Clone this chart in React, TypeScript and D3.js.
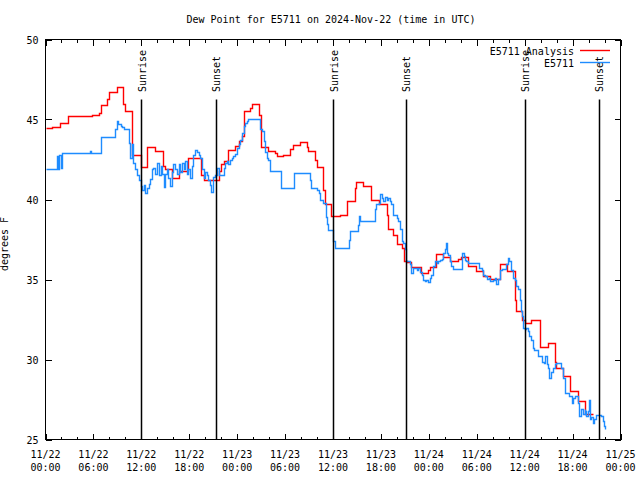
import React from "react";
import * as d3 from "d3";

// hours since 2024-11-22 00:00 UTC
const analysisHours = [0, 0.83, 1.8, 2.8, 5.8, 6.7, 6.9, 7.7, 7.9, 8.9, 9.7, 9.9, 10.8, 11.96, 12.7, 13.75, 14.7, 15.0, 15.8, 16.7, 17.9, 19.5, 19.8, 21.75, 22.0, 22.4, 22.9, 23.75, 24.2, 24.6, 24.8, 25.6, 25.9, 26.75, 26.96, 27.9, 28.75, 28.96, 29.8, 30.6, 31.0, 31.9, 32.7, 32.9, 33.75, 33.96, 34.8, 35.0, 35.8, 36.9, 37.7, 38.75, 38.9, 39.8, 40.7, 41.7, 42.7, 42.9, 43.5, 43.96, 44.7, 44.9, 45.3, 45.8, 47.0, 47.9, 48.1, 48.9, 49.8, 50.7, 51.7, 52.0, 52.9, 53.9, 54.8, 55.6, 56.9, 57.8, 58.75, 58.9, 59.7, 60.0, 60.75, 61.96, 62.9, 63.8, 63.96, 64.8, 65.7, 66.7, 67.5, 67.6, 68.5];
const analysisValues = [44.45, 44.55, 44.75, 45.2, 45.3, 45.4, 45.9, 46.3, 46.7, 47.05, 46.0, 45.56, 42.8, 42.04, 43.29, 43.02, 42.08, 41.88, 41.35, 41.77, 42.6, 41.56, 41.25, 41.77, 42.19, 42.4, 43.08, 43.33, 43.65, 44.0, 45.52, 45.7, 45.98, 45.3, 43.29, 43.06, 42.9, 42.75, 42.8, 43.13, 43.38, 43.6, 43.3, 43.02, 42.5, 42.04, 40.6, 39.75, 38.96, 39.06, 39.9, 40.73, 41.1, 40.83, 39.94, 39.69, 39.0, 38.13, 37.8, 37.25, 36.98, 36.15, 36.08, 35.77, 35.42, 35.6, 35.79, 36.6, 36.42, 36.15, 36.3, 36.42, 35.83, 35.52, 35.21, 35.06, 36.0, 35.56, 33.75, 33.06, 32.5, 32.25, 32.44, 30.79, 31.04, 29.83, 29.48, 29.0, 28.06, 27.4, 27.19, 26.6, 26.6];

const obsHours = [0, 1.45, 1.6, 1.75, 1.9, 2.05, 5.6, 5.7, 7.0, 8.75, 8.9, 9.04, 9.4, 9.6, 9.8, 10.5, 10.6, 10.8, 11.0, 11.25, 11.5, 11.7, 11.9, 12.1, 12.3, 12.4, 12.5, 12.7, 12.9, 13.1, 13.3, 13.5, 13.75, 13.96, 14.2, 14.4, 14.6, 14.8, 15.0, 15.2, 15.4, 15.6, 15.8, 16.0, 16.25, 16.5, 16.7, 16.9, 17.1, 17.3, 17.5, 17.7, 17.9, 18.1, 18.3, 18.5, 18.75, 18.96, 19.2, 19.4, 19.6, 19.8, 20.0, 20.2, 20.4, 20.6, 20.75, 20.96, 21.25, 21.5, 21.7, 22.1, 22.3, 22.5, 22.7, 22.9, 23.1, 23.3, 23.5, 23.75, 23.96, 24.2, 24.4, 24.6, 24.8, 25.0, 25.2, 25.4, 26.9, 27.1, 27.3, 27.5, 27.7, 27.9, 28.1, 29.5, 31.1, 33.1, 33.3, 33.96, 34.2, 34.4, 34.8, 35.1, 35.3, 35.4, 36.04, 36.2, 38.0, 38.1, 39.1, 39.2, 39.4, 41.25, 41.4, 41.7, 41.9, 42.1, 42.3, 42.5, 42.7, 42.9, 43.1, 43.3, 43.5, 43.96, 44.2, 44.4, 44.6, 44.8, 45.0, 45.1, 45.6, 45.8, 46.0, 46.5, 46.7, 46.9, 47.1, 47.3, 47.5, 47.7, 47.9, 48.1, 48.3, 48.5, 48.75, 48.96, 49.2, 49.4, 49.6, 49.8, 50.0, 50.1, 50.3, 50.4, 50.6, 50.8, 51.0, 52.1, 52.2, 52.4, 52.5, 52.7, 52.9, 54.3, 54.6, 54.8, 55.0, 55.3, 55.5, 55.7, 56.0, 56.25, 56.4, 56.7, 56.9, 57.1, 57.6, 57.9, 58.1, 58.3, 58.5, 58.75, 58.96, 59.2, 59.4, 59.6, 59.7, 59.8, 60.0, 60.2, 60.4, 60.6, 60.8, 61.0, 61.2, 61.4, 61.7, 61.9, 62.2, 62.4, 62.6, 62.75, 62.9, 63.1, 63.3, 63.5, 63.75, 63.96, 64.4, 64.6, 64.8, 65.0, 65.2, 65.4, 65.6, 65.96, 66.1, 66.25, 66.5, 66.7, 66.8, 67.0, 67.2, 67.3, 67.5, 67.6, 67.7, 67.9, 68.0, 68.1, 68.2, 68.3, 68.5, 68.7, 68.96, 69.4, 69.6, 69.8, 69.96, 70.1];
const obsValues = [41.92, 42.7, 41.9, 42.8, 42.0, 42.92, 43.05, 42.92, 43.92, 44.4, 44.9, 44.7, 44.6, 44.5, 44.4, 43.54, 42.6, 43.5, 42.3, 41.9, 41.56, 41.2, 40.83, 40.6, 40.9, 40.42, 40.4, 40.7, 41.0, 41.3, 41.9, 42.0, 41.6, 42.3, 41.5, 42.1, 41.6, 40.8, 41.6, 41.9, 41.35, 40.83, 41.7, 42.2, 41.9, 41.6, 42.25, 41.7, 42.3, 41.9, 42.4, 41.6, 41.9, 41.35, 42.1, 42.8, 43.1, 43.0, 42.8, 42.6, 41.9, 41.35, 41.7, 41.5, 41.2, 40.9, 40.5, 41.4, 41.56, 42.0, 41.56, 41.5, 41.98, 42.3, 42.4, 42.2, 42.5, 42.6, 42.75, 42.85, 43.25, 43.44, 43.75, 44.17, 44.6, 44.8, 44.9, 45.0, 44.4, 44.3, 43.67, 43.0, 42.6, 42.5, 41.77, 40.69, 41.67, 41.2, 40.73, 40.6, 40.4, 40.0, 39.8, 38.9, 38.5, 38.1, 37.4, 36.98, 37.5, 38.02, 38.4, 38.96, 38.65, 39.4, 39.69, 39.79, 40.35, 40.1, 39.9, 40.15, 40.0, 40.1, 39.9, 39.69, 39.06, 38.85, 38.65, 38.13, 37.4, 37.3, 36.9, 36.15, 35.94, 35.4, 35.73, 35.6, 35.73, 35.5, 35.3, 35.0, 34.9, 34.94, 34.83, 35.1, 35.3, 35.83, 36.15, 36.04, 36.15, 36.25, 36.3, 36.67, 36.9, 37.3, 36.67, 36.56, 36.15, 35.83, 35.67, 36.35, 36.67, 36.46, 36.25, 36.15, 36.04, 35.73, 35.6, 35.3, 35.2, 35.04, 35.1, 34.9, 35.0, 35.1, 34.75, 35.06, 35.6, 35.67, 36.0, 36.35, 36.15, 35.6, 35.1, 35.0, 34.6, 34.4, 33.75, 33.0, 32.7, 32.0, 31.9, 32.0, 31.8, 31.46, 31.25, 30.73, 30.6, 30.6, 30.25, 30.2, 29.83, 29.8, 30.25, 29.7, 29.5, 28.85, 29.2, 29.48, 29.7, 29.8, 29.8, 29.5, 28.85, 27.92, 27.9, 27.92, 27.7, 27.29, 27.6, 27.7, 27.7, 27.29, 26.46, 26.9, 26.9, 26.6, 26.9, 26.8, 26.5, 26.8, 27.4, 27.5, 26.3, 26.4, 26.04, 26.3, 26.56, 26.56, 26.46, 26.15, 25.85, 25.63];

const sunLabels = ["Sunrise", "Sunset", "Sunrise", "Sunset", "Sunrise", "Sunset"];
const sunHours = [12.0, 21.3, 36.0, 45.1, 60.0, 69.25];

const xTickHours = [0, 6, 12, 18, 24, 30, 36, 42, 48, 54, 60, 66, 72];
const xDayLabels = ["11/22", "11/22", "11/22", "11/22", "11/23", "11/23", "11/23", "11/23", "11/24", "11/24", "11/24", "11/24", "11/25"];
const xTimeLabels = ["00:00", "06:00", "12:00", "18:00", "00:00", "06:00", "12:00", "18:00", "00:00", "06:00", "12:00", "18:00", "00:00"];
const yTicks = [25, 30, 35, 40, 45, 50];

const seriesNames = ["E5711 Analysis", "E5711"];
const seriesColors = ["#ff0000", "#1e8cff"];

const FONT = "'DejaVu Sans Mono', monospace";
const W = 640;
const H = 480;

export default function App() {
  const L = 45.5, R = 620.5, T = 39.5, B = 439.5;
  const x = d3.scaleLinear().domain([0, 72]).range([L, R]);
  const y = d3.scaleLinear().domain([25, 50]).range([B, T]);
  const px = (v: number) => Math.round(x(v)) + 0.5;
  const py = (v: number) => Math.round(y(v)) + 0.5;

  const line = d3
    .line<[number, number]>()
    .x((d) => px(d[0]))
    .y((d) => py(d[1]))
    .curve(d3.curveStepAfter);

  const analysis: [number, number][] = analysisHours.map((h, i) => [h, analysisValues[i]]);
  const obs: [number, number][] = obsHours.map((h, i) => [h, obsValues[i]]);

  const minorHours = d3.range(0, 73, 2).filter((h) => h % 6 !== 0);

  return (
    <svg
      width={W}
      height={H}
      style={{ position: "absolute", left: 0, top: 0, background: "#fff" }}
      fontFamily={FONT}
      fontSize={10}
    >
      <rect x={0} y={0} width={W} height={H} fill="#fff" />
      <text x={331} y={23} textAnchor="middle" fill="#000">
        Dew Point for E5711 on 2024-Nov-22 (time in UTC)
      </text>

      {/* ticks */}
      <g stroke="#000" strokeWidth={1} shapeRendering="crispEdges">
        {yTicks.map((t) => (
          <g key={"y" + t}>
            <line x1={L} x2={L + 6} y1={py(t)} y2={py(t)} />
            <line x1={R} x2={R - 6} y1={py(t)} y2={py(t)} />
          </g>
        ))}
        {xTickHours.map((h) => (
          <g key={"x" + h}>
            <line x1={px(h)} x2={px(h)} y1={B} y2={B - 6} />
            <line x1={px(h)} x2={px(h)} y1={T} y2={T + 6} />
          </g>
        ))}
        {minorHours.map((h) => (
          <g key={"m" + h}>
            <line x1={px(h)} x2={px(h)} y1={B} y2={B - 3} />
            <line x1={px(h)} x2={px(h)} y1={T} y2={T + 3} />
          </g>
        ))}
      </g>

      {/* tick labels */}
      {yTicks.map((t) => (
        <text key={"yl" + t} x={38.5} y={y(t) + 4} textAnchor="end" fill="#000">
          {t}
        </text>
      ))}
      {xTickHours.map((h, i) => (
        <g key={"xl" + h}>
          <text x={x(h)} y={458} textAnchor="middle" fill="#000">
            {xDayLabels[i]}
          </text>
          <text x={x(h)} y={471} textAnchor="middle" fill="#000">
            {xTimeLabels[i]}
          </text>
        </g>
      ))}
      <text transform={`translate(8,244) rotate(-90)`} textAnchor="middle" fill="#000">
        degrees F
      </text>

      {/* data */}
      <path d={line(analysis) || ""} fill="none" stroke={seriesColors[0]} strokeWidth={1.4} />
      <path d={line(obs) || ""} fill="none" stroke={seriesColors[1]} strokeWidth={1.4} />

      {/* sun lines */}
      {sunHours.map((h, i) => (
        <g key={"s" + i}>
          <line x1={px(h)} x2={px(h)} y1={B} y2={y(25 + 0.85 * 25)} stroke="#000" strokeWidth={1.5} />
          <text transform={`translate(${x(h) + 4.5},92) rotate(-90)`} textAnchor="start" fill="#000">
            {sunLabels[i]}
          </text>
        </g>
      ))}

      {/* legend */}
      {seriesNames.map((n, i) => (
        <g key={"lg" + i}>
          <text x={574} y={54.5 + i * 12.5} textAnchor="end" fill="#000">
            {n}
          </text>
          <line x1={580} x2={610} y1={50.5 + i * 12} y2={50.5 + i * 12} stroke={seriesColors[i]} strokeWidth={1.4} />
        </g>
      ))}

      {/* frame */}
      <rect x={L} y={T} width={R - L} height={B - T} fill="none" stroke="#000" strokeWidth={1} shapeRendering="crispEdges" />
    </svg>
  );
}
